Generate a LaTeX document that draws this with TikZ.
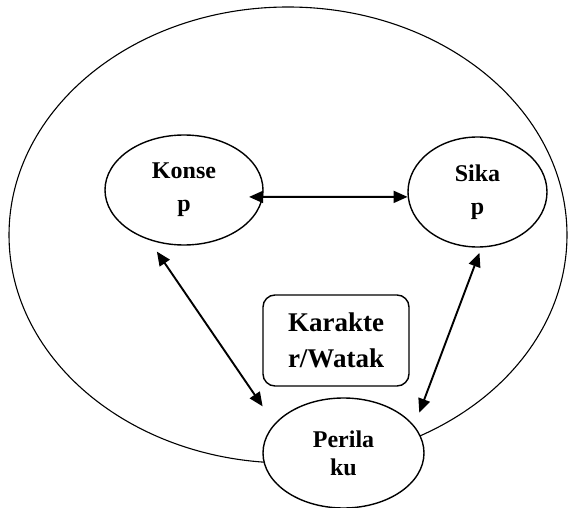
\documentclass[tikz,border=0pt]{standalone}
\usepackage{fontspec}
\setmainfont{Liberation Serif}
\usetikzlibrary{shapes.geometric,arrows.meta}

\begin{document}
\begin{tikzpicture}[x=1pt,y=-1pt,
  bubble/.style={draw, ellipse, fill=white, line width=1.4pt, inner sep=0pt, align=center, font=\fontsize{24}{33}\selectfont\bfseries},
  link/.style={{Triangle[length=14pt,width=12pt]}-{Triangle[length=14pt,width=12pt]}, line width=1.9pt}]
  \useasboundingbox (0,0) rectangle (568,508);
  \draw[line width=1.1pt] (288,235) ellipse [x radius=279pt, y radius=228pt];

  \node[bubble, minimum width=158pt, minimum height=110pt] (konsep) at (184,190) {Konse\\p};
  \node[bubble, minimum width=139pt, minimum height=110pt] (sikap) at (477.5,192) {Sika\\p};
  \node[bubble, minimum width=161pt, minimum height=110pt, font=\fontsize{24}{28}\selectfont\bfseries] (perilaku) at (343.5,453) {Perila\\ku};
  \node[draw, rounded corners=12pt, line width=1.4pt, minimum width=146pt, minimum height=91pt, align=center, font=\fontsize{27}{36}\selectfont\bfseries] (karakter) at (336,340.5) {Karakte\\r/Watak};

  \draw[link, shorten <=-14pt] (konsep.355) -- (sikap.184);
  \draw[link, shorten <=14pt, shorten >=21pt] (konsep.235) -- (perilaku.157);
  \draw[link, shorten <=5.5pt, shorten >=14pt] (sikap.274) -- (perilaku.21);
\end{tikzpicture}
\end{document}
